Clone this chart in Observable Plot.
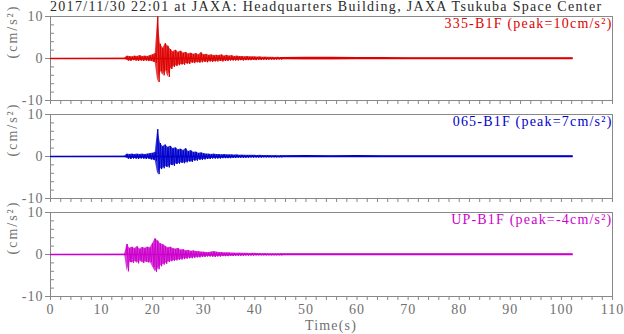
<!DOCTYPE html>
<html>
<head>
<meta charset="utf-8">
<script src="https://cdn.jsdelivr.net/npm/d3@7"></script>
<script src="https://cdn.jsdelivr.net/npm/@observablehq/plot@0.6"></script>
<style>
  html, body { margin: 0; padding: 0; background: #fff; }
  #wrap { position: relative; width: 624px; height: 334px; overflow: hidden; font-family: "Liberation Serif", serif; }
  #title { position: absolute; left: 50px; top: 0px; font-size: 14px; line-height: 14px; letter-spacing: 1.3px; color: #2a2a2a; white-space: nowrap; }
  #xlabel { position: absolute; left: 50px; width: 562px; text-align: center; top: 319px; font-size: 14px; line-height: 14px; letter-spacing: 1.2px; color: #707070; }
</style>
</head>
<body>
<div id="wrap">
  <div id="chart"></div>
  <div id="title">2017/11/30 22:01 at JAXA: Headquarters Building, JAXA Tsukuba Space Center</div>
  <div id="xlabel">Time(s)</div>
</div>
<script>
// ---- Data ----
const seriesNames = ["335-B1F", "065-B1F", "UP-B1F"];
const seriesColors = ["#dd0000", "#0000cc", "#cc00cc"];
const peakLabels = ["335-B1F (peak=10cm/s²)", "065-B1F (peak=7cm/s²)", "UP-B1F (peak=-4cm/s²)"];
const yUnitLabel = "(cm/s²)";
const xTickLabels = [0, 10, 20, 30, 40, 50, 60, 70, 80, 90, 100, 110];
const yTickLabels = [-10, 0, 10];
const yMinorTicks = [-8, -6, -4, -2, 2, 4, 6, 8];

const recordStart = 0;
const recordEnd = 102.3;
const onsetTime = 14.5;   // first envelope sample (s)
const sampleStep = 0.5;   // envelope sample spacing (s)

// upper / lower excursions, one pair per 0.5 s from 14.5 s to 45 s
const redHi = [0.05, 0.6, 0.5, 0.4, 0.6, 0.5, 0.7, 0.5, 0.6, 0.5,
  0.7, 0.9, 1.2, 10, 3.5, 2.5, 3.6, 3.0, 2.2, 1.6,
  2.0, 1.5, 1.8, 1.3, 1.5, 1.1, 1.3, 1.0, 1.2, 0.9,
  1.4, 0.9, 1.0, 0.8, 0.9, 0.7, 0.8, 0.7, 0.9, 0.6,
  0.8, 0.6, 0.7, 0.5, 0.6, 0.5, 0.5, 0.4, 0.5, 0.4,
  0.4, 0.4, 0.35, 0.4, 0.3, 0.35, 0.3, 0.3, 0.3, 0.25,
  0.3, 0.25];
const redLo = [-0.05, -0.5, -0.6, -0.4, -0.5, -0.6, -0.5, -0.6, -0.5, -0.6,
  -0.6, -0.8, -1.0, -5.6, -3.0, -4.0, -2.8, -4.4, -2.5, -2.0,
  -1.8, -1.6, -1.4, -1.5, -1.2, -1.3, -1.0, -1.1, -0.9, -1.0,
  -0.9, -0.8, -0.9, -0.7, -0.8, -0.7, -0.7, -0.6, -0.7, -0.6,
  -0.6, -0.5, -0.5, -0.5, -0.5, -0.4, -0.5, -0.4, -0.4, -0.4,
  -0.35, -0.4, -0.3, -0.35, -0.3, -0.3, -0.3, -0.25, -0.3, -0.25,
  -0.25, -0.25];
const blueHi = [0.05, 0.6, 0.5, 0.6, 0.5, 0.6, 0.5, 0.6, 0.5, 0.6,
  0.7, 0.8, 1.0, 6.5, 3.2, 2.4, 2.8, 2.2, 2.5, 1.9,
  2.1, 1.6, 1.8, 1.4, 1.9, 1.2, 1.4, 1.0, 1.1, 0.8,
  0.9, 0.7, 0.6, 0.6, 0.5, 0.6, 0.5, 0.5, 0.4, 0.5,
  0.4, 0.4, 0.4, 0.35, 0.4, 0.3, 0.35, 0.3, 0.3, 0.3,
  0.3, 0.3, 0.25, 0.3, 0.25, 0.25, 0.25, 0.25, 0.2, 0.25,
  0.2, 0.2];
const blueLo = [-0.05, -0.5, -0.6, -0.5, -0.5, -0.6, -0.5, -0.5, -0.6, -0.5,
  -0.7, -0.8, -1.0, -4.2, -3.0, -2.8, -2.4, -2.6, -2.0, -2.2,
  -1.8, -1.7, -1.5, -1.6, -1.4, -1.2, -1.3, -1.0, -1.0, -0.8,
  -0.8, -0.7, -0.6, -0.6, -0.5, -0.5, -0.5, -0.5, -0.4, -0.4,
  -0.4, -0.4, -0.35, -0.35, -0.3, -0.3, -0.3, -0.3, -0.3, -0.25,
  -0.25, -0.25, -0.25, -0.25, -0.2, -0.2, -0.2, -0.2, -0.2, -0.2,
  -0.2, -0.2];
const magentaHi = [0.05, 2.5, 1.5, 1.8, 1.4, 1.9, 1.3, 1.7, 1.5, 1.8,
  1.6, 2.6, 3.8, 3.3, 2.6, 2.4, 2.0, 1.6, 1.8, 1.4,
  1.3, 1.5, 1.1, 1.2, 0.9, 1.0, 0.8, 0.9, 0.7, 0.7,
  0.6, 0.6, 0.5, 0.5, 0.6, 0.7, 0.6, 0.5, 0.5, 0.4,
  0.4, 0.4, 0.35, 0.35, 0.3, 0.35, 0.3, 0.3, 0.3, 0.25,
  0.3, 0.3, 0.25, 0.25, 0.2, 0.25, 0.2, 0.2, 0.2, 0.2,
  0.2, 0.2];
const magentaLo = [-0.05, -4.0, -1.8, -2.0, -1.6, -2.1, -1.5, -2.0, -1.7, -1.9,
  -1.8, -3.0, -4.1, -3.5, -2.8, -2.4, -2.2, -1.8, -1.6, -1.5,
  -1.4, -1.3, -1.2, -1.1, -1.0, -0.9, -0.9, -0.8, -0.7, -0.7,
  -0.6, -0.6, -0.5, -0.5, -0.5, -0.6, -0.5, -0.5, -0.4, -0.4,
  -0.4, -0.35, -0.35, -0.3, -0.3, -0.3, -0.3, -0.25, -0.25, -0.25,
  -0.25, -0.2, -0.2, -0.2, -0.2, -0.2, -0.2, -0.2, -0.2, -0.2,
  -0.2, -0.2];

// late coda: half-amplitude of the trace band
const tailTimes = [45, 50, 55, 60, 65, 70, 75, 80, 85, 90, 95, 100, 102.3];
const redTail = [0.25, 0.3, 0.28, 0.25, 0.22, 0.2, 0.2, 0.2, 0.18, 0.18, 0.16, 0.16, 0.16];
const blueTail = [0.2, 0.22, 0.2, 0.22, 0.18, 0.16, 0.16, 0.16, 0.15, 0.15, 0.15, 0.15, 0.15];
const magentaTail = [0.2, 0.2, 0.18, 0.16, 0.15, 0.15, 0.15, 0.15, 0.15, 0.15, 0.15, 0.15, 0.15];

// ---- Build tables ----
const hiBySeries = [redHi, blueHi, magentaHi];
const loBySeries = [redLo, blueLo, magentaLo];
const tailBySeries = [redTail, blueTail, magentaTail];

const traceRows = [];
const envRows = [];
seriesNames.forEach((s, k) => {
  traceRows.push({series: s, t: recordStart, v: 0});
  hiBySeries[k].forEach((h, i) => {
    const t = onsetTime + i * sampleStep;
    traceRows.push({series: s, t, v: h});
    traceRows.push({series: s, t: t + sampleStep / 2, v: loBySeries[k][i]});
    envRows.push({series: s, t, hi: h, lo: loBySeries[k][i]});
  });
});
const tailRows = [];
seriesNames.forEach((s, k) => {
  tailBySeries[k].forEach((a, i) => tailRows.push({series: s, t: tailTimes[i], lo: -a, hi: a}));
});
const panelRows = seriesNames.map((s, k) => ({series: s, label: peakLabels[k], unit: yUnitLabel}));

const gray = "#888";
const textGray = "#707070";

const chart = Plot.plot({
  width: 624,
  height: 334,
  marginTop: 16,
  marginBottom: 38,
  marginLeft: 50,
  marginRight: 12,
  style: {fontFamily: "Liberation Serif", fontSize: "13px", letterSpacing: "1px", background: "#fff", overflow: "visible"},
  x: {domain: [0, 110]},
  y: {domain: [-10, 10]},
  fy: {domain: seriesNames, axis: null, paddingInner: 14 / 98, paddingOuter: 0, round: false},
  color: {domain: seriesNames, range: seriesColors},
  marks: [
    Plot.frame({stroke: gray}),
    // x ticks on every panel
    Plot.axisX({ticks: d3.range(0, 111, 2), tickSize: 4, text: null, stroke: gray, facetAnchor: null, label: null}),
    // x tick labels on bottom panel
    Plot.axisX({ticks: xTickLabels, tickSize: 0, tickPadding: 8, fill: textGray, label: null, tickFormat: d => String(d), fontSize: 14}),
    // y major ticks (outward) with labels
    Plot.axisY({ticks: yTickLabels, tickSize: 5, tickPadding: 2, stroke: gray, fill: textGray, label: null, tickFormat: d => String(d), fontSize: 14}),
    // y minor ticks (inward)
    Plot.axisY({ticks: yMinorTicks, tickSize: 4, dx: 4, text: null, stroke: gray, label: null}),
    // unit labels
    Plot.text(panelRows, {fy: "series", frameAnchor: "left", text: "unit", rotate: -90, dx: -38, fill: textGray, fontSize: 14}),
    // baseline
    Plot.ruleY(panelRows, {fy: "series", y: 0, x1: recordStart, x2: recordEnd, stroke: "series", strokeWidth: 1.3}),
    // coda band
    Plot.areaY(tailRows, {fy: "series", x: "t", y1: "lo", y2: "hi", fill: "series", z: "series"}),
    // dense core of the waveform
    Plot.areaY(envRows, {fy: "series", x: "t", y1: "lo", y2: "hi", fill: "series", z: "series", fillOpacity: 0.75}),
    // waveform
    Plot.line(traceRows, {fy: "series", x: "t", y: "v", z: "series", stroke: "series", strokeWidth: 1}),
    // panel labels
    Plot.text(panelRows, {fy: "series", frameAnchor: "top-right", text: "label", fill: "series", dx: 0, dy: 2, fontSize: 14})
  ]
});
document.getElementById("chart").appendChild(chart);
// glyph spacing of the panel labels and unit labels, as in the reference rendering
d3.select(chart).selectAll("text").filter(function() { return peakLabels.includes(this.textContent); })
  .style("letter-spacing", "1.2px");
d3.select(chart).selectAll("text").filter(function() { return this.textContent === yUnitLabel; })
  .style("letter-spacing", "2px");
</script>
</body>
</html>
